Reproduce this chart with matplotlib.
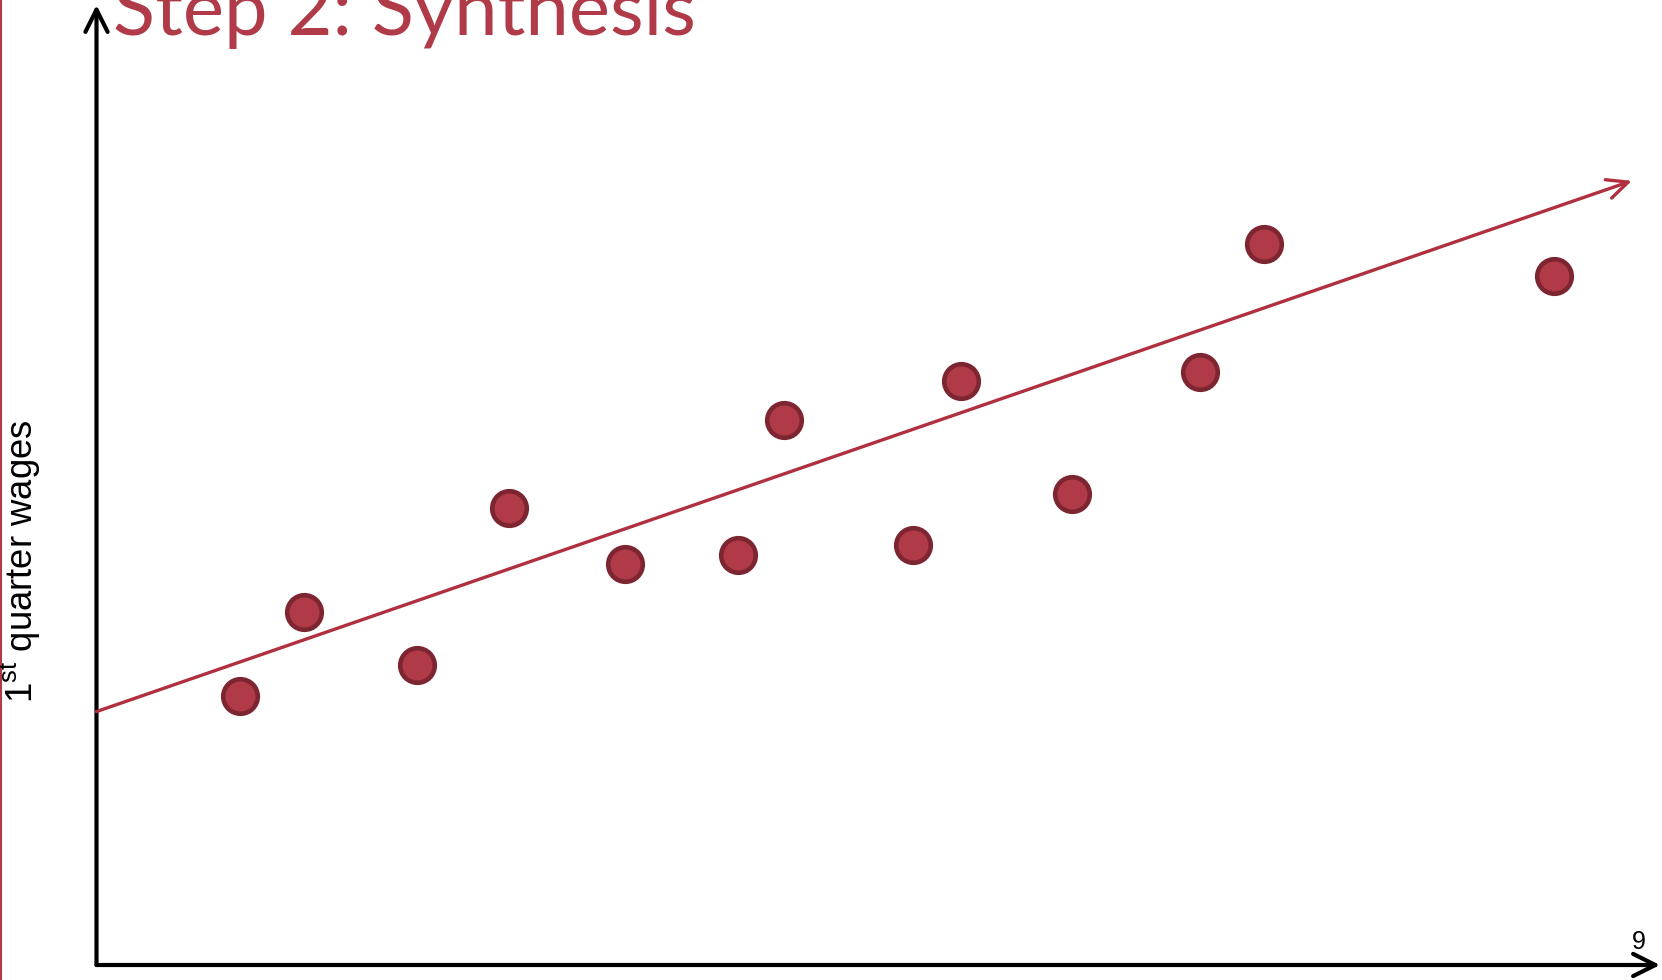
import matplotlib
matplotlib.use("Agg")
import matplotlib.pyplot as plt

# wages scatter with fitted trend
x_vals = [9.2, 13.3, 20.5, 26.4, 33.8, 41.0, 44.0, 52.2, 55.3, 62.4, 70.6, 74.7, 93.2]
y_vals = [28.0, 36.8, 31.3, 47.6, 41.8, 42.7, 56.8, 43.8, 60.8, 49.1, 61.8, 75.1, 71.8]
trend_intercept = 26.4
trend_slope = 0.563
trend_end = 98.2

title = "Step 2: Synthesis"
ylabel = r"1$^{\mathregular{st}}$ quarter wages"
page_no = "9"

red = "#B03A48"
dark_red = "#7D2530"

W, H = 1662, 980
fig = plt.figure(figsize=(W / 100, H / 100), dpi=100)
ax = fig.add_axes([96.5 / W, 15 / H, 1563.5 / W, 960 / H])
ax.set_xlim(0, 100)
ax.set_ylim(0, 100)
ax.axis("off")

# axes drawn as arrows
axis_arrow = dict(arrowstyle="->,head_length=1.6,head_width=0.8", lw=3.0,
                  color="black", shrinkA=0, shrinkB=0)
ax.annotate("", xy=(100, 0), xytext=(0, 0), arrowprops=axis_arrow,
            annotation_clip=False)
ax.annotate("", xy=(0, 100), xytext=(0, 0), arrowprops=axis_arrow,
            annotation_clip=False)

# trend line
ax.annotate("", xy=(trend_end, trend_intercept + trend_slope * trend_end),
            xytext=(0, trend_intercept),
            arrowprops=dict(arrowstyle="->,head_length=1.5,head_width=0.7",
                            lw=2.4, color="#B0303F", shrinkA=0, shrinkB=0),
            annotation_clip=False)

ax.scatter(x_vals, y_vals, s=620, c=red, edgecolors=dark_red,
           linewidths=3.3, zorder=3, clip_on=False)

# page elements
fig.add_artist(plt.Line2D([1 / W, 1 / W], [0, 1], color=red, lw=1.5))
fig.text(113 / W, 1 - 35 / H, title, color=red, fontsize=56,
         family=["Lato", "DejaVu Sans"], va="baseline", ha="left")
fig.text(21 / W, 1 - 561 / H, ylabel, rotation=90, fontsize=26.3,
         family=["Liberation Sans", "DejaVu Sans"], va="center", ha="center")
fig.text(1639 / W, 1 - 942 / H, page_no, fontsize=18,
         family=["Liberation Sans", "DejaVu Sans"], va="center", ha="center")

fig.savefig("out.png", dpi=100)
